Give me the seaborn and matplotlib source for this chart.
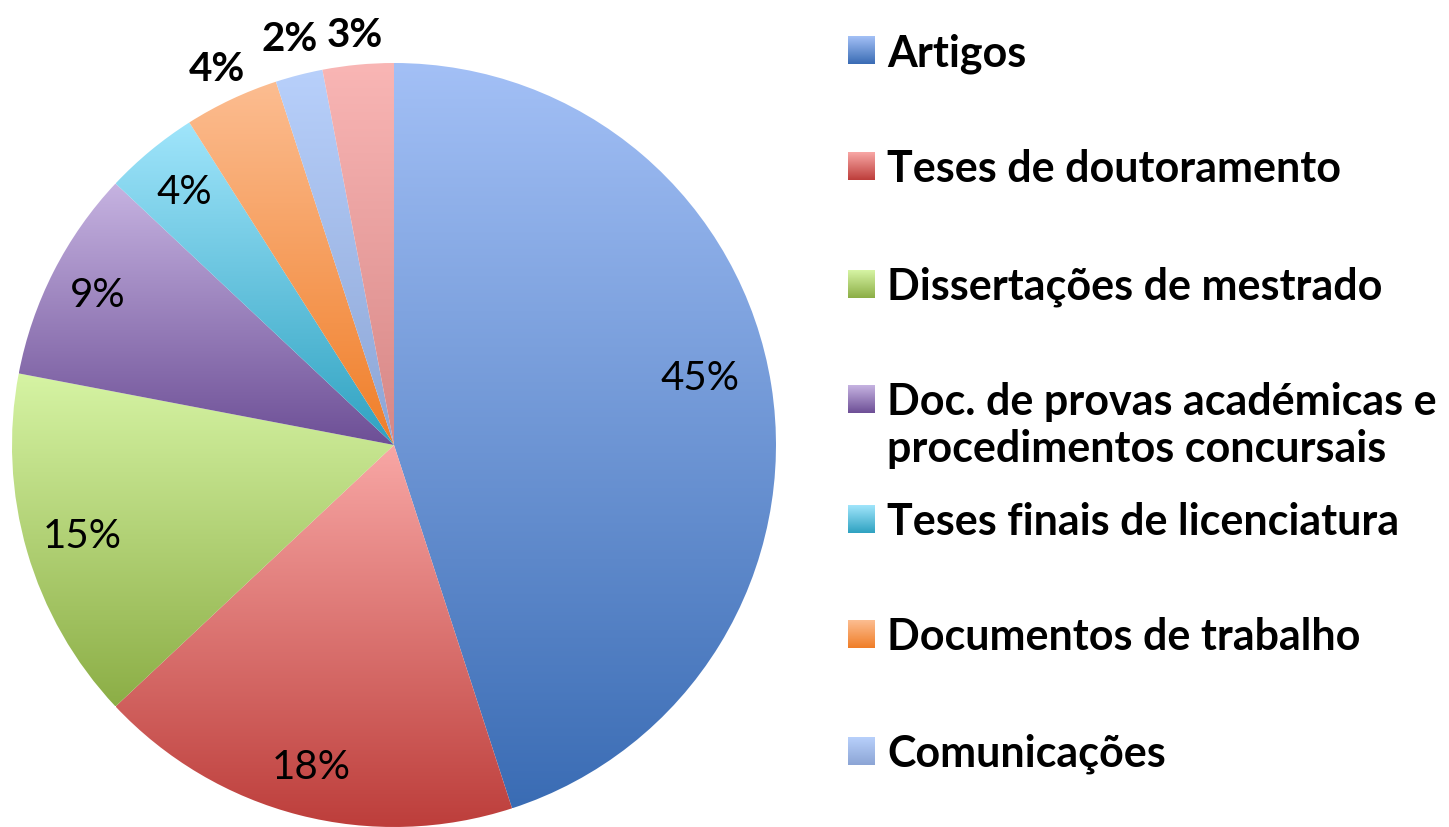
import numpy as np
import matplotlib
matplotlib.use("Agg")
import matplotlib.pyplot as plt
import seaborn as sns
from matplotlib.colors import to_rgb

# data
categories = ["Artigos", "Teses de doutoramento", "Dissertações de mestrado",
              "Doc. de provas académicas e\nprocedimentos concursais",
              "Teses finais de licenciatura", "Documentos de trabalho",
              "Comunicações", ""]
shares = [45, 18, 15, 9, 4, 4, 2, 3]

# Excel-like gradient (light top -> dark bottom) per slice
tops = ["#a3c0f6", "#f8a7a5", "#d6f4a4", "#c6b3e1", "#a0e5fb", "#fcbd91", "#b8d0fb", "#f9b6b5"]
bots = ["#3a6cb4", "#bd3e3b", "#8cae46", "#6d4f96", "#2fa2c1", "#f07e28", "#8ca5d5", "#d78786"]
# where each percentage label sits (fraction of radius, extra degrees)
label_dist = [0.82, 0.87, 0.85, 0.87, 0.86, 1.09, 1.10, 1.08]
label_turn = [3.5, 0, 0, 0, 0, 0, 0, 0]

sns.set_theme(style="white")
plt.rcParams['font.family'] = ['Lato', 'DejaVu Sans']

W, H = 1449, 828
fig = plt.figure(figsize=(W / 100, H / 100), dpi=100)

# pie
cx, cy, r = 394, 446, 382
ax = fig.add_axes([(cx - r) / W, (H - cy - r) / H, 2 * r / W, 2 * r / H])
wedges, _, pct = ax.pie(shares, startangle=90, counterclock=False, radius=1,
                        autopct='%d%%', pctdistance=0.85,
                        textprops=dict(fontsize=29, color='black'))
for w, top, bot in zip(wedges, tops, bots):
    bb = w.get_path().get_extents()
    grad = np.linspace(to_rgb(top), to_rgb(bot), 256)[:, None, :]
    im = ax.imshow(grad, extent=[bb.x0, bb.x1, bb.y0, bb.y1], aspect='auto',
                   interpolation='bilinear', zorder=1)
    im.set_clip_path(w)
    w.set_facecolor('none')
    w.set_edgecolor('none')

for w, t, d, turn in zip(wedges, pct, label_dist, label_turn):
    mid = np.deg2rad((w.theta1 + w.theta2) / 2 + turn)
    t.set_position((d * np.cos(mid), d * np.sin(mid)))
    t.set_zorder(5)
    t.set_clip_on(False)
    if d > 1:
        t.set_fontweight('bold')

ax.set_xlim(-1, 1)
ax.set_ylim(-1, 1)
ax.axis('off')

# legend (first seven entries visible, the rest falls outside the picture)
lg = fig.add_axes([0, 0, 1, 1])
lg.patch.set_visible(False)
row_y = [51, 167, 285, 400, 520, 635, 752]
for yc, lab, top, bot in zip(row_y, categories, tops, bots):
    grad = np.linspace(to_rgb(top), to_rgb(bot), 64)[:, None, :]
    lg.imshow(grad, extent=[848, 875, yc + 14, yc - 14], aspect='auto',
              interpolation='bilinear')
    nl = lab.count("\n")
    lg.text(887, yc + 15 + nl * 47, lab, fontsize=31, fontweight='bold',
            color='black', va='baseline', ha='left', linespacing=1.22)
lg.set_xlim(0, W)
lg.set_ylim(H, 0)
lg.axis('off')

fig.savefig("out.png", dpi=100)
